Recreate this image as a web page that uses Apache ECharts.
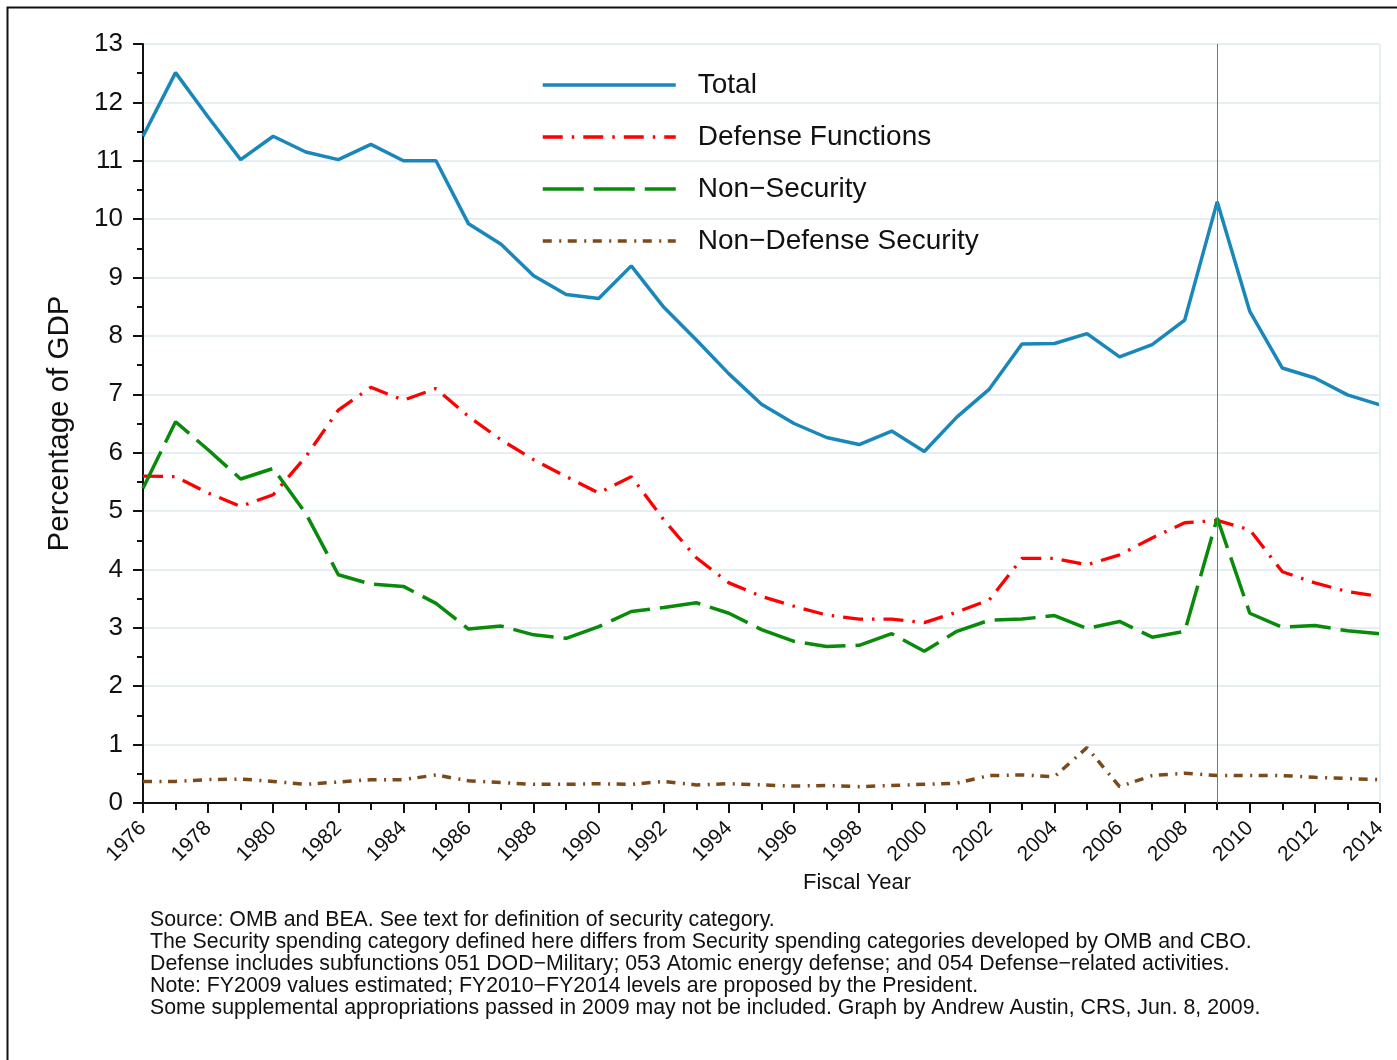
<!DOCTYPE html>
<html>
<head>
<meta charset="utf-8">
<script src="https://cdn.jsdelivr.net/npm/echarts@6/dist/echarts.min.js"></script>
<style>
html,body{margin:0;padding:0;background:#fff;}
#chart{width:1397px;height:1060px;}
</style>
</head>
<body>
<div id="chart"></div>
<script>
const years = [1976,1977,1978,1979,1980,1981,1982,1983,1984,1985,1986,1987,1988,1989,1990,1991,1992,1993,1994,1995,1996,1997,1998,1999,2000,2001,2002,2003,2004,2005,2006,2007,2008,2009,2010,2011,2012,2013,2014];
const total = [11.42,12.51,11.75,11.02,11.42,11.15,11.02,11.28,11.0,11.0,9.92,9.57,9.03,8.71,8.64,9.2,8.49,7.93,7.35,6.83,6.5,6.26,6.14,6.37,6.02,6.61,7.09,7.86,7.87,8.04,7.64,7.85,8.27,10.3,8.42,7.45,7.28,6.99,6.82];
const defense = [5.6,5.59,5.31,5.08,5.28,5.93,6.73,7.12,6.9,7.1,6.62,6.22,5.88,5.59,5.31,5.59,4.85,4.2,3.77,3.54,3.37,3.22,3.15,3.15,3.09,3.27,3.48,4.19,4.19,4.08,4.25,4.54,4.8,4.84,4.68,3.96,3.77,3.62,3.54];
const nonSecurity = [5.39,6.53,6.05,5.55,5.73,4.96,3.91,3.75,3.71,3.42,2.98,3.03,2.88,2.82,3.02,3.28,3.35,3.43,3.25,2.97,2.77,2.68,2.7,2.9,2.6,2.94,3.13,3.15,3.21,2.99,3.11,2.84,2.94,4.88,3.25,3.01,3.04,2.95,2.9];
const nonDefenseSecurity = [0.37,0.37,0.4,0.41,0.37,0.32,0.36,0.4,0.4,0.48,0.38,0.35,0.32,0.32,0.33,0.32,0.37,0.31,0.33,0.31,0.29,0.3,0.28,0.3,0.32,0.34,0.47,0.48,0.45,0.95,0.28,0.47,0.51,0.47,0.47,0.47,0.44,0.42,0.4];
const seriesNames = ['Total','Defense Functions','Non\u2212Security','Non\u2212Defense Security'];
const footnote = [
 'Source: OMB and BEA. See text for definition of security category.',
 'The Security spending category defined here differs from Security spending categories developed by OMB and CBO.',
 'Defense includes subfunctions 051 DOD\u2212Military; 053 Atomic energy defense; and 054 Defense\u2212related activities.',
 'Note: FY2009 values estimated; FY2010\u2212FY2014 levels are proposed by the President.',
 'Some supplemental appropriations passed in 2009 may not be included. Graph by Andrew Austin, CRS, Jun. 8, 2009.'
];
const FONT = '"Liberation Sans", Arial, Helvetica, sans-serif';

function pairs(arr){ return years.map((y,i)=>[y,arr[i]]); }

const chart = echarts.init(document.getElementById('chart'), null, {renderer:'canvas'});
chart.setOption({
  animation:false,
  backgroundColor:'#fff',
  textStyle:{fontFamily:FONT},
  grid:{left:143,right:17,top:44,bottom:257,containLabel:false},
  legend:{
    orient:'vertical', left:536, top:66,
    itemWidth:133, itemHeight:30, itemGap:24,
    itemStyle:{opacity:0},
    lineStyle:{width:3.5},
    textStyle:{fontFamily:FONT,fontSize:28,color:'#111',padding:[0,0,0,17]},
    data:seriesNames
  },
  xAxis:{
    type:'value', min:1976, max:2014, interval:2,
    axisLine:{show:true,lineStyle:{color:'#111',width:2}},
    axisTick:{show:true,length:10,lineStyle:{color:'#111',width:2}},
    minorTick:{show:true,splitNumber:2,length:7,lineStyle:{color:'#111',width:2}},
    splitLine:{show:false},
    axisLabel:{rotate:45,fontSize:21,color:'#111',fontFamily:FONT,margin:22,formatter:v=>String(v)}
  },
  yAxis:{
    type:'value', min:0, max:13, interval:1,
    name:'Percentage of GDP', nameLocation:'middle', nameGap:68,
    nameTextStyle:{fontSize:29.5,color:'#111',fontFamily:FONT},
    axisLine:{show:true,lineStyle:{color:'#111',width:2}},
    axisTick:{show:true,length:10,lineStyle:{color:'#111',width:2}},
    minorTick:{show:true,splitNumber:2,length:6,lineStyle:{color:'#111',width:2}},
    splitLine:{show:true,lineStyle:{color:'#e6eef1',width:2}},
    axisLabel:{fontSize:26,color:'#111',fontFamily:FONT,margin:20}
  },
  series:[
    {name:seriesNames[0],type:'line',data:pairs(total),symbol:'none',
     lineStyle:{color:'#1a87ba',width:3.5},itemStyle:{color:'#1a87ba'},
     markLine:{silent:true,symbol:'none',label:{show:false},
       data:[{xAxis:2009,lineStyle:{color:'#777',width:1,type:'solid'}},
             {xAxis:2014,lineStyle:{color:'#e6eef1',width:2,type:'solid'}}]}},
    {name:seriesNames[1],type:'line',data:pairs(defense),symbol:'none',
     lineStyle:{color:'#ff0000',width:3.3,type:[20,9,2.5,9]},itemStyle:{color:'#ff0000'}},
    {name:seriesNames[2],type:'line',data:pairs(nonSecurity),symbol:'none',
     lineStyle:{color:'#0a8a0a',width:3.5,type:[41,10]},itemStyle:{color:'#0a8a0a'}},
    {name:seriesNames[3],type:'line',data:pairs(nonDefenseSecurity),symbol:'none',
     lineStyle:{color:'#7b4a1b',width:3.5,type:[9,7.5,2,6.5]},itemStyle:{color:'#7b4a1b'}}
  ],
  graphic:[
    {type:'rect',left:5,top:5,shape:{width:1500,height:1200},style:{fill:null,stroke:'#111',lineWidth:2},silent:true,z:-1},
    {type:'text',left:803,top:872,style:{text:'Fiscal Year',font:'22px '+FONT,fill:'#111'}},
    {type:'text',left:150,top:909,style:{text:footnote.join('\n'),font:'21.3px '+FONT,lineHeight:22,fill:'#111'}}
  ]
});
</script>
</body>
</html>
